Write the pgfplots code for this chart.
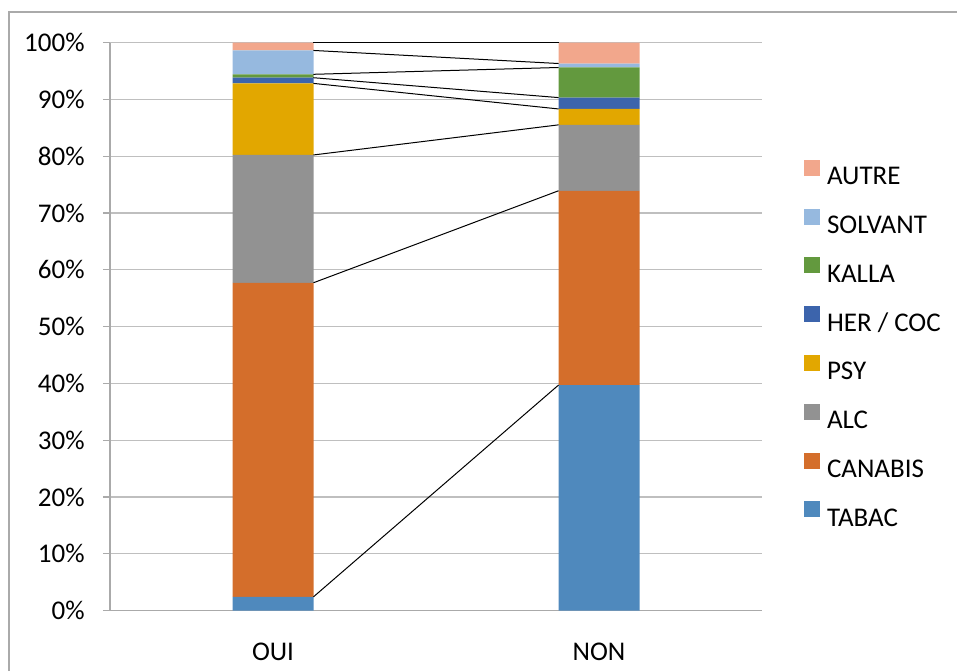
\documentclass[border=0pt]{standalone}
\usepackage{pgfplots}
\pgfplotsset{compat=1.18}
\usepackage{fontspec}
\setmainfont{Carlito}
\definecolor{cTABAC}{RGB}{79,137,189}
\definecolor{cCANABIS}{RGB}{212,110,43}
\definecolor{cALC}{RGB}{146,146,146}
\definecolor{cPSY}{RGB}{226,167,0}
\definecolor{cHER}{RGB}{60,100,172}
\definecolor{cKALLA}{RGB}{99,153,62}
\definecolor{cSOLVANT}{RGB}{150,185,223}
\definecolor{cAUTRE}{RGB}{242,167,140}
\definecolor{cgrid}{RGB}{191,191,191}
\definecolor{caxis}{RGB}{170,170,170}
\begin{document}
\fontsize{13.5}{16}\selectfont
\begin{tikzpicture}
\draw[caxis,line width=0.6pt] (4.5pt,0pt) -- (4.5pt,329.5pt) -- (478.5pt,329.5pt);
\begin{axis}[
  at={(55pt,30.25pt)}, anchor=south west, scale only axis,
  width=326pt, height=284pt,
  ybar stacked, bar width=40.5pt,
  xmin=-0.5, xmax=1.5, ymin=0, ymax=100,
  xtick={0,1}, xticklabels={OUI,NON},
  xtick style={draw=none},
  xticklabel style={anchor=base, inner sep=0pt, yshift=-21.4pt},
  ytick={0,10,...,100},
  yticklabel={\pgfmathprintnumber[assume math mode=true]{\tick}\%},
  yticklabel style={anchor=east, inner sep=0pt, xshift=-9pt},
  ytick style={caxis, line width=0.6pt},
  tick align=outside, major tick length=3.5pt,
  ymajorgrids, grid style={cgrid, line width=0.6pt},
  axis x line*=bottom, axis y line*=left,
  axis line style={-, caxis, line width=0.6pt},
  ytick pos=left,
  tick label style={font=\fontsize{13.5}{16}\selectfont},
  reverse legend,
  legend cell align=left,
  legend image code/.code={\fill[#1,draw=none] (0pt,-0.1pt) rectangle (8pt,7.9pt);},
  legend style={at={(1.0644,0.4708)}, anchor=west, draw=none, fill=none,
    inner sep=0pt, outer sep=0pt, row sep=12pt, column sep=3.5pt,
    font=\fontsize{13.5}{16}\selectfont,
    nodes={inner sep=0pt, text height=9pt, text depth=0pt}},
]
\addplot[fill=cTABAC, draw=none] coordinates {(0,2.4) (1,39.7)};
\addplot[fill=cCANABIS, draw=none] coordinates {(0,55.3) (1,34.2)};
\addplot[fill=cALC, draw=none] coordinates {(0,22.5) (1,11.6)};
\addplot[fill=cPSY, draw=none] coordinates {(0,12.6) (1,2.8)};
\addplot[fill=cHER, draw=none] coordinates {(0,1.0) (1,2.0)};
\addplot[fill=cKALLA, draw=none] coordinates {(0,0.6) (1,5.3)};
\addplot[fill=cSOLVANT, draw=none] coordinates {(0,4.2) (1,0.7)};
\addplot[fill=cAUTRE, draw=none] coordinates {(0,1.4) (1,3.7)};
\legend{TABAC,CANABIS,ALC,PSY,HER / COC,KALLA,SOLVANT,AUTRE}
\end{axis}
\begin{axis}[
  at={(55pt,30.25pt)}, anchor=south west, scale only axis,
  width=326pt, height=284pt,
  xmin=-0.5, xmax=1.5, ymin=0, ymax=100, hide axis, clip=false,
]
\addplot[black, line width=0.5pt] coordinates {(0.124,2.4) (0.876,39.7)};
\addplot[black, line width=0.5pt] coordinates {(0.124,57.7) (0.876,73.9)};
\addplot[black, line width=0.5pt] coordinates {(0.124,80.2) (0.876,85.5)};
\addplot[black, line width=0.5pt] coordinates {(0.124,92.8) (0.876,88.3)};
\addplot[black, line width=0.5pt] coordinates {(0.124,93.8) (0.876,90.3)};
\addplot[black, line width=0.5pt] coordinates {(0.124,94.4) (0.876,95.6)};
\addplot[black, line width=0.5pt] coordinates {(0.124,98.6) (0.876,96.3)};
\addplot[black, line width=0.5pt] coordinates {(0.124,100) (0.876,100)};
\end{axis}
\pgfresetboundingbox
\useasboundingbox (0,0) rectangle (478.5pt,335.5pt);
\end{tikzpicture}
\end{document}
